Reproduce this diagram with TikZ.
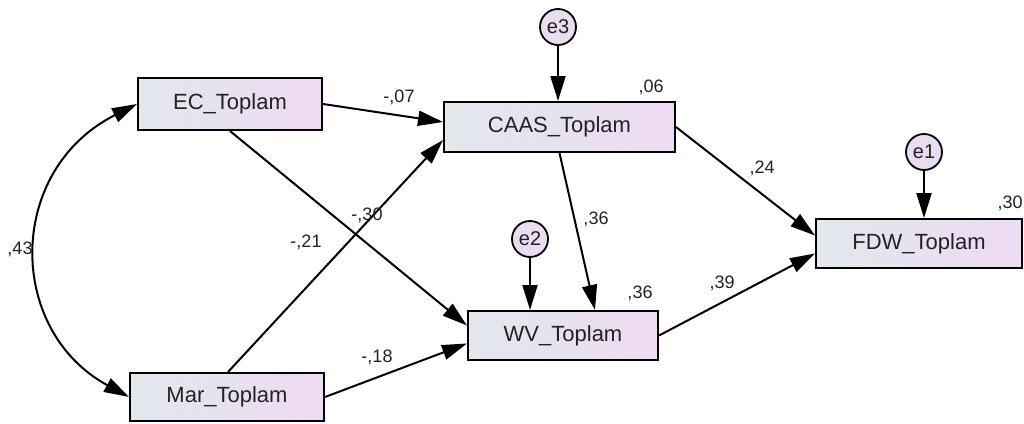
\documentclass[tikz,border=0pt]{standalone}
\usepackage{fontspec}
\setmainfont{Liberation Sans}
\usetikzlibrary{arrows.meta}
\definecolor{boxL}{HTML}{E2E8EC}
\definecolor{boxR}{HTML}{EEDAF3}
\definecolor{errfill}{HTML}{EADDF1}
\definecolor{txt}{HTML}{222222}

\tikzset{
	var/.style={draw, line width=2pt, rectangle, left color=boxL, right color=boxR,
		font=\fontsize{22}{24}\selectfont, text=txt, inner sep=0pt},
	err/.style={draw, line width=1.8pt, circle, fill=errfill, minimum size=36pt,
		inner sep=0pt, font=\fontsize{20}{22}\selectfont, text=txt},
	coef/.style={font=\fontsize{18}{20}\selectfont, text=txt, inner sep=0pt},
	path/.style={line width=2pt, -{Triangle[length=25pt,width=15pt]}},
}

\begin{document}
\begin{tikzpicture}[x=1pt, y=-1pt]
			\useasboundingbox (0,0) rectangle (1024,423);
			% observed variables
			\node[var, minimum width=184pt, minimum height=52pt] (ec) at (230,104) {EC\_Toplam};
			\node[var, minimum width=231pt, minimum height=50pt] (caas) at (559.5,127) {CAAS\_Toplam};
			\node[var, minimum width=206pt, minimum height=49pt] (fdw) at (919,243.5) {FDW\_Toplam};
			\node[var, minimum width=194pt, minimum height=48pt] (mar) at (227,397) {Mar\_Toplam};
			\node[var, minimum width=190pt, minimum height=49pt] (wv) at (563,335.5) {WV\_Toplam};
			% error terms
			\node[err] (e3) at (558,27) {e3};
			\node[err] (e2) at (530,239) {e2};
			\node[err] (e1) at (924,152) {e1};
			% paths
			\draw[path] (ec.east) -- ([yshift=5pt]caas.west);
			\draw[path] ([xshift=1pt]mar.north) -- ([yshift=-13pt]caas.west);
			\draw[path] (ec.south) -- ([yshift=10pt]wv.west);
			\draw[path] (mar.east) -- ([yshift=-8pt]wv.west);
			\draw[path] (caas.south) -- ([xshift=32pt]wv.north);
			\draw[path] (caas.east) -- ([yshift=8pt]fdw.west);
			\draw[path] (wv.east) -- ([yshift=-10pt]fdw.west);
			\draw[path] (e3) -- (e3 |- caas.north);
			\draw[path] (e2) -- (e2 |- wv.north);
			\draw[path] (e1) -- (e1 |- fdw.north);
			\draw[line width=2pt, {Triangle[length=25pt,width=15pt]}-{Triangle[length=25pt,width=15pt]}]
				(ec.west) .. controls (6,170) and (6,330) .. (mar.west);
			% estimates
			\node[coef] (c1) at (399,97) {-,07};
			\node[coef] (c2) at (651,87) {,06};
			\node[coef] (c3) at (762,168) {,24};
			\node[coef] (c4) at (1010,203) {,30};
			\node[coef] (c5) at (367,215) {-,30};
			\node[coef] (c6) at (306,242) {-,21};
			\node[coef] (c7) at (596,219) {,36};
			\node[coef] (c8) at (640,293) {,36};
			\node[coef] (c9) at (722,283) {,39};
			\node[coef] (c10) at (377,357) {-,18};
			\node[coef] (c11) at (20,249) {,43};
		\end{tikzpicture}
\end{document}
